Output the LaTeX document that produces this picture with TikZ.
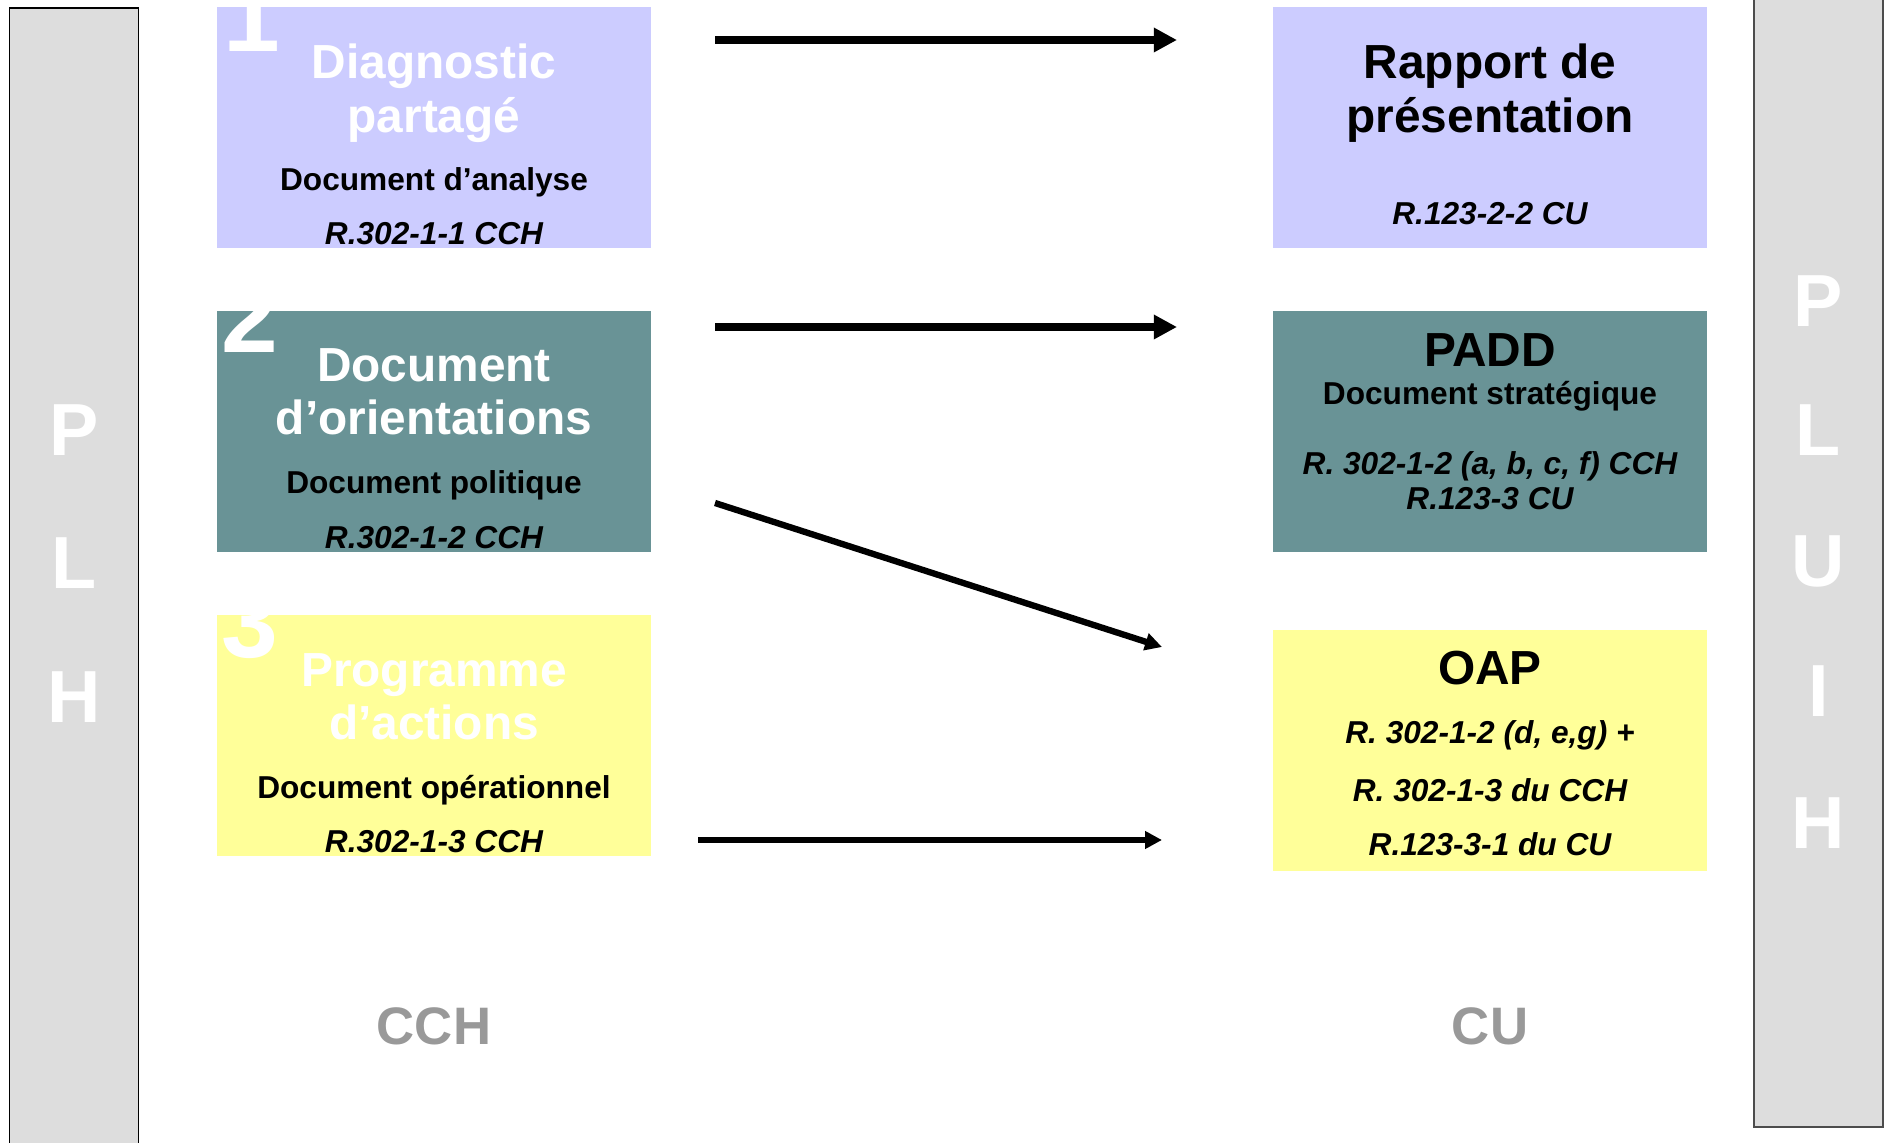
\documentclass[tikz,border=0pt]{standalone}
\usepackage{fontspec}
\setmainfont{Liberation Sans}
\usetikzlibrary{arrows.meta}

\definecolor{lavande}{HTML}{CCCCFF}
\definecolor{canard}{HTML}{699396}
\definecolor{paille}{HTML}{FFFF99}
\definecolor{grisbarre}{HTML}{DDDDDD}
\definecolor{gristexte}{HTML}{999999}

\tikzset{
	boite/.style={inner sep=0pt, minimum width=4.34cm, minimum height=2.41cm},
	barre/.style={draw=black, line width=0.5pt, fill=grisbarre, inner sep=0pt, minimum width=1.29cm},
	titre/.style={anchor=base, font=\bfseries\fontsize{13.6}{15}\selectfont},
	sous/.style={anchor=base, font=\bfseries\fontsize{9}{10}\selectfont},
	reference/.style={anchor=base, font=\bfseries\itshape\fontsize{9}{10}\selectfont},
	chiffre/.style={anchor=base, text=white, font=\bfseries\fontsize{29}{30}\selectfont},
	lettre/.style={anchor=base, text=white, font=\bfseries\fontsize{21}{22}\selectfont},
	code/.style={anchor=base, text=gristexte, font=\bfseries\fontsize{15}{16}\selectfont},
	fleche/.style={line width=2pt, -{Triangle[length=6.6pt,width=6.6pt]}},
	petitefleche/.style={line width=1.8pt, -{Triangle[length=4.8pt,width=4.8pt]}}
}

\begin{document}
\begin{tikzpicture}[x=0.01cm, y=-0.01cm]
	\clip (0,0) rectangle (1890,1143);

	% barres PLH et PLUIH
	\node[barre, minimum height=11.52cm] (plh) at (74,584) {};
	\node[barre, minimum height=11.47cm, draw=black!70] (pluih) at (1818.5,553.5) {};
	\foreach \l/\y [count=\i] in {P/456, L/589, H/722}
		\node[lettre] (plh\i) at (74,\y) {\l};
	\foreach \l/\y [count=\i] in {P/327, L/456, U/587, I/717, H/848}
		\node[lettre] (pluih\i) at (1818.5,\y) {\l};

	% colonne CCH
	\node[boite, fill=lavande] (diag) at (434,127.5) {};
	\node[boite, fill=canard] (orient) at (434,431.5) {};
	\node[boite, fill=paille] (prog) at (434,735.5) {};

	\begin{scope}
		\clip (diag.south west) rectangle (diag.north east);
		\node[chiffre] (n1) at (252,52) {1};
	\end{scope}
	\begin{scope}
		\clip (orient.south west) rectangle (orient.north east);
		\node[chiffre] (n2) at (250,353) {2};
	\end{scope}
	\begin{scope}
		\clip (prog.south west) rectangle (prog.north east);
		\node[chiffre] (n3) at (250,658) {3};
	\end{scope}

	\node[titre, text=white] (diag1) at (434,79) {Diagnostic};
	\node[titre, text=white] (diag2) at (434,133) {partagé};
	\node[sous] (diag3) at (434,191) {Document d’analyse};
	\node[reference] (diag4) at (434,245) {R.302-1-1 CCH};

	\node[titre, text=white] (orient1) at (434,382) {Document};
	\node[titre, text=white] (orient2) at (434,435) {d’orientations};
	\node[sous] (orient3) at (434,494) {Document politique};
	\node[reference] (orient4) at (434,549) {R.302-1-2 CCH};

	\node[titre, text=white] (prog1) at (434,687) {Programme};
	\node[titre, text=white] (prog2) at (434,740) {d’actions};
	\node[sous] (prog3) at (434,798) {Document opérationnel};
	\node[reference] (prog4) at (434,852) {R.302-1-3 CCH};

	% colonne CU
	\node[boite, fill=lavande] (rapport) at (1490,127.5) {};
	\node[boite, fill=canard] (padd) at (1490,431.5) {};
	\node[boite, fill=paille] (oap) at (1490,750.5) {};

	\node[titre] (rapport1) at (1490,79) {Rapport de};
	\node[titre] (rapport2) at (1490,133) {présentation};
	\node[reference] (rapport3) at (1490,225) {R.123-2-2 CU};

	\node[titre] (padd1) at (1490,367) {PADD};
	\node[sous] (padd2) at (1490,405) {Document stratégique};
	\node[reference] (padd3) at (1490,475) {R. 302-1-2 (a, b, c, f) CCH};
	\node[reference] (padd4) at (1490,510) {R.123-3 CU};

	\node[titre] (oap1) at (1490,685) {OAP};
	\node[reference] (oap2) at (1490,744) {R. 302-1-2 (d, e,g) +};
	\node[reference] (oap3) at (1490,801) {R. 302-1-3 du CCH};
	\node[reference] (oap4) at (1490,856) {R.123-3-1 du CU};

	\node[code] (cch) at (434,1044) {CCH};
	\node[code] (cu) at (1490,1044) {CU};

	% fleches
	\coordinate (d1) at (715,40);
	\coordinate (f1) at (1177,40);
	\coordinate (d2) at (715,327);
	\coordinate (f2) at (1177,327);
	\coordinate (d3) at (715,503);
	\coordinate (f3) at (1162,647);
	\coordinate (d4) at (698,840);
	\coordinate (f4) at (1162,840);

	\draw[fleche] (d1) -- (f1);
	\draw[fleche] (d2) -- (f2);
	\draw[petitefleche] (d3) -- (f3);
	\draw[petitefleche] (d4) -- (f4);
\end{tikzpicture}
\end{document}
